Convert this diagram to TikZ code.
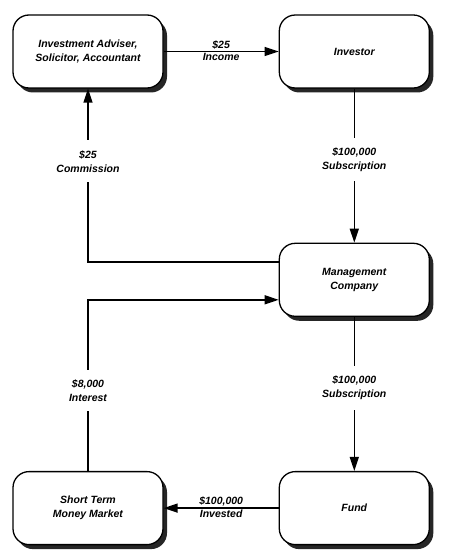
\documentclass[tikz,border=0pt]{standalone}
\usepackage{fontspec}
\setmainfont{Liberation Sans}
\usetikzlibrary{positioning,arrows.meta,shadows}

\begin{document}
\begin{tikzpicture}[
  x=1pt, y=-1pt,
  node distance=154pt and 115pt,
  party/.style={draw, line width=1.3pt, rounded corners=16pt, fill=white,
    align=center, minimum width=150pt, minimum height=73pt,
    font=\fontsize{10.5}{14}\bfseries\itshape,
    general shadow={fill=black!85, shadow xshift=4pt, shadow yshift=-4.5pt}},
  flow/.style={-{Triangle[length=14pt,width=9pt]}, line width=1.4pt},
  amt/.style={font=\fontsize{10.5}{14}\bfseries\itshape, align=center},
  gap/.style={amt, fill=white, inner xsep=2pt, inner ysep=10pt}
]
\useasboundingbox (0,0) rectangle (454,556);

\node[party] (adv) at (88,51.5) {Investment Adviser,\\Solicitor, Accountant};
\node[party, right=of adv] (inv) {Investor};
\node[party, below=of inv] (mgmt) {Management\\Company};
\node[party, below=of mgmt] (fund) {Fund};
\node[party, left=of fund] (mm) {Short Term\\Money Market};

\draw[flow] (adv) -- (inv)
  node[midway, above, amt, inner sep=1.5pt] {\$25}
  node[midway, below, amt, inner sep=1.5pt] {Income};
\draw[flow] (inv) -- (mgmt) node[pos=0.46, gap] {\$100,000\\Subscription};
\draw[flow] ([yshift=18pt]mgmt.west) -| (adv.south)
  node[pos=0.79, gap] {\$25\\Commission};
\draw[flow] (mm.north) |- ([yshift=-20pt]mgmt.west)
  node[pos=0.235, gap] {\$8,000\\Interest};
\draw[flow] (mgmt) -- (fund) node[pos=0.46, gap] {\$100,000\\Subscription};
\draw[flow] (fund) -- (mm)
  node[midway, above, amt, inner sep=1.5pt] {\$100,000}
  node[midway, below, amt, inner sep=1.5pt] {Invested};
\end{tikzpicture}
\end{document}
